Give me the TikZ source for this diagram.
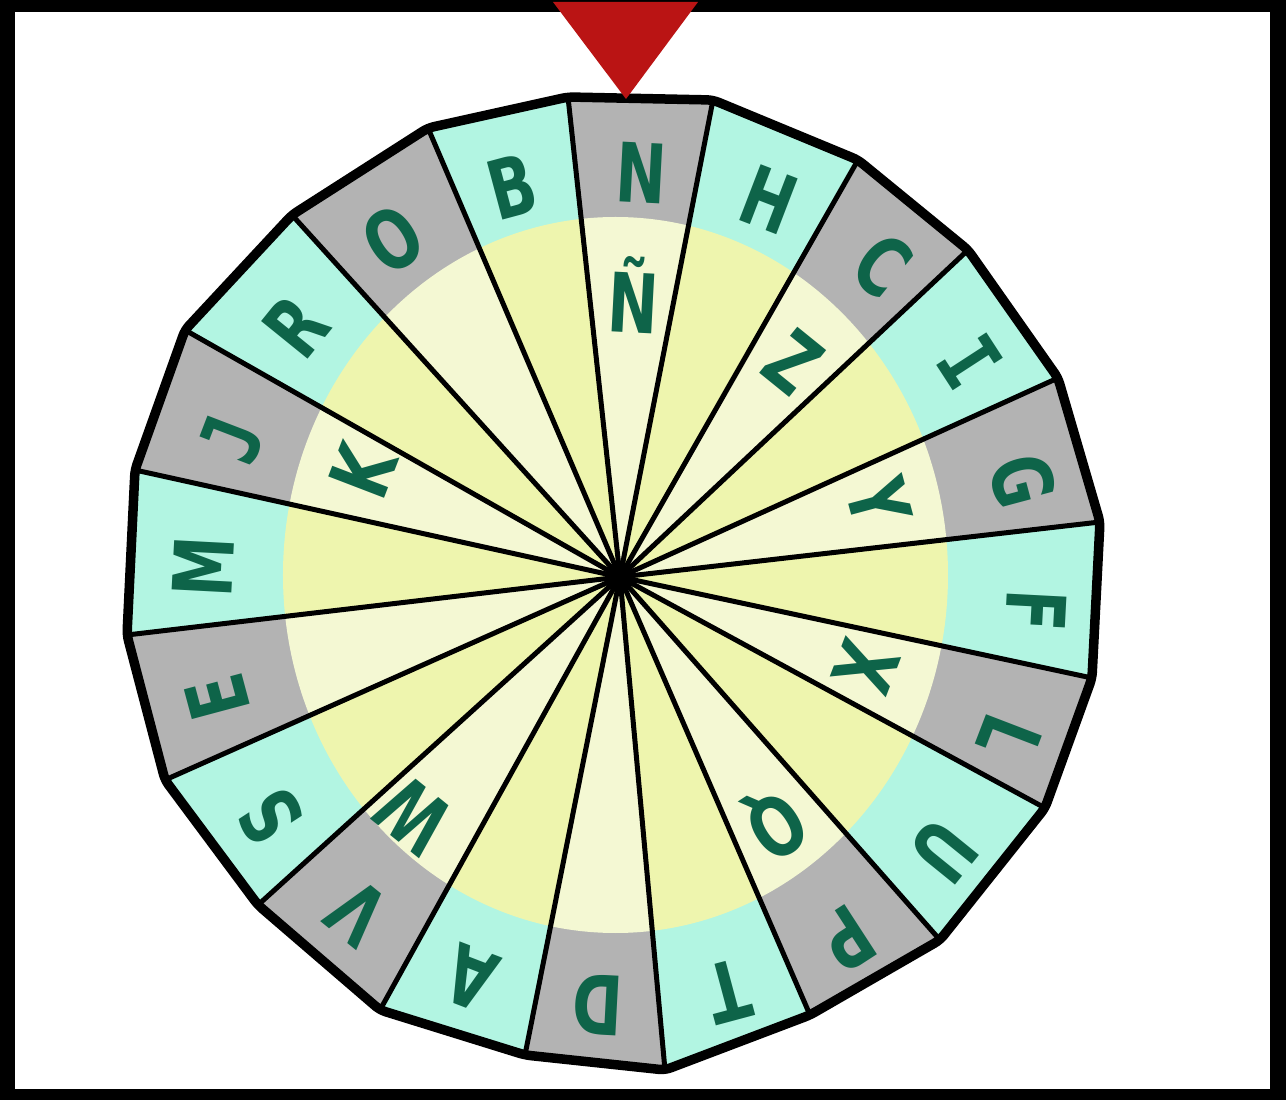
\documentclass[tikz,border=0pt]{standalone}
\usepackage{fontspec}
\usetikzlibrary{calc}
\newfontfamily\wheelfont[FakeStretch=0.74]{DejaVu Sans}
\newfontfamily\wheelmono[FakeStretch=0.85]{DejaVu Sans Mono}
\definecolor{ringteal}{HTML}{B2F5E2}
\definecolor{ringgray}{HTML}{B3B3B3}
\definecolor{yelA}{HTML}{F4F8D3}
\definecolor{yelB}{HTML}{EEF5AE}
\definecolor{lettergreen}{HTML}{0E6449}
\definecolor{pointerred}{HTML}{BA1414}
\tikzset{
  letter/.style={text=lettergreen, inner sep=0pt, text height=60pt, text depth=0pt,
    font=\wheelfont\bfseries\fontsize{82}{82}\selectfont},
  spoke/.style={line width=5pt, black},
  rim/.style={line width=9.5pt, black, line join=round, rounded corners=6pt}
}
\begin{document}
\begin{tikzpicture}[x=1pt,y=1pt]
\useasboundingbox (-620,577) rectangle (666,-523);
% frame
\fill[black] (-620,577) rectangle (666,-523);
\fill[white] ({15-620},{577-12}) rectangle ({1270-620},{577-1089});
% rim vertices (sector boundaries)
\foreach \px/\py [count=\i from 0] in {568/97,713/100,858/160,968/250,1058/378,1100/522,1092/678,1045/808,940/940,810/1015,665/1070,525/1055,380/1010,258/905,165/780,127/635,135/470,185/330,292/215,428/128}
  \coordinate (v\i) at ({\px-620},{577-\py});
\coordinate (hub) at (0,0);
% outer ring sectors
\foreach \i in {0,...,19}{
  \pgfmathtruncatemacro\j{mod(\i+1,20)}
  \ifodd\i\relax \def\rc{ringteal}\else \def\rc{ringgray}\fi
  \fill[\rc] (hub) -- (v\i) -- (v\j) -- cycle;
}
% inner disk sectors
\begin{scope}
  \clip (-4.5,2) ellipse [x radius=332.5, y radius=358];
  \foreach \i in {0,...,19}{
    \pgfmathtruncatemacro\j{mod(\i+1,20)}
    \ifodd\i\relax \def\ic{yelB}\else \def\ic{yelA}\fi
    \fill[\ic] (hub) -- ($2*(v\i)$) -- ($2*(v\j)$) -- cycle;
  }
\end{scope}
% spokes
\foreach \i in {0,...,19} \draw[spoke] (hub) -- (v\i);
% rim
\draw[rim] (v0) -- (v1) -- (v2) -- (v3) -- (v4) -- (v5) -- (v6) -- (v7) -- (v8) -- (v9) -- (v10) -- (v11) -- (v12) -- (v13) -- (v14) -- (v15) -- (v16) -- (v17) -- (v18) -- (v19) -- cycle;
\fill[black] (hub) circle (14);
% outer letters
\foreach \L [count=\k from 0] in {N,H,C,{\wheelmono I},G,F,L,U,P,T,D,A,V,S,E,M,{\wheelmono J},R,O,B}{
  \pgfmathsetmacro\ang{87-18*\k}
  \node[letter, rotate=\ang-90] (out\k) at ($(0,-12)+(\ang:417)$) {\L};
}
% inner letters
\node[letter, rotate=-3]   (inN) at ({633-620},{577-303}) {Ñ};
\node[letter, rotate=-39]  (inZ) at ({793-620},{577-362}) {Z};
\node[letter, rotate=-75]  (inY) at ({879-620},{577-502}) {Y};
\node[letter, rotate=-111] (inX) at ({866-620},{577-667}) {X};
\node[letter, rotate=-147] (inQ) at ({777-620},{577-827}) {Q};
\node[letter, rotate=141]  (inW) at ({414-620},{577-816}) {W};
\node[letter, rotate=69]   (inK) at ({363-620},{577-471}) {K};
% pointer
\fill[pointerred] ({553-620},{577-2}) -- ({698-620},{577-2}) -- ({626-620},{577-99}) -- cycle;
\end{tikzpicture}
\end{document}
